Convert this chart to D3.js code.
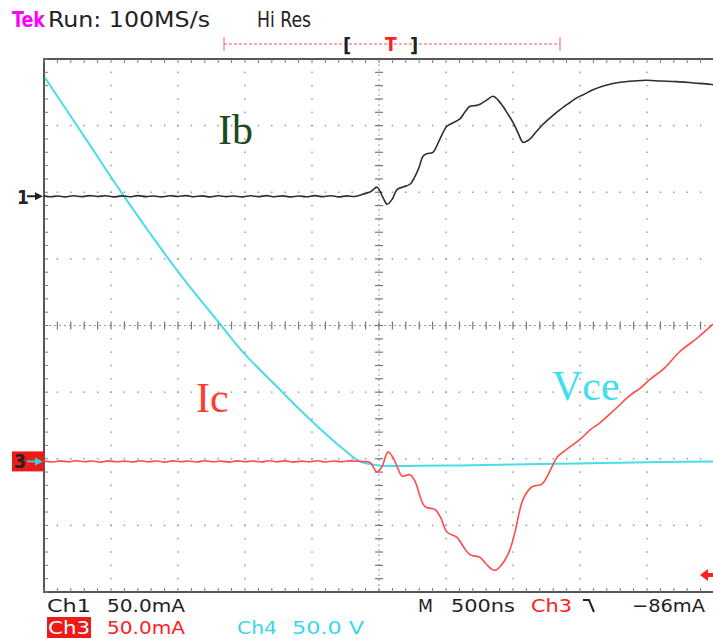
<!DOCTYPE html>
<html>
<head>
<meta charset="utf-8">
<script src="https://cdn.jsdelivr.net/npm/d3@7"></script>
<style>
  html, body { margin: 0; padding: 0; background: #fff; }
  svg { display: block; }
  .scr { font-family: "DejaVu Sans Condensed", "Liberation Sans Narrow", "DejaVu Sans", sans-serif; }
  .lbl { font-family: "Liberation Serif", "DejaVu Serif", serif; }
</style>
</head>
<body>
<div id="chart"></div>
<script>
// scope settings: 500 ns/div, 10 x 8 divisions, trigger in the middle
const TIME_RANGE = [-2500, 2500];   // ns
const DIV_RANGE = [-4, 4];           // vertical divisions
const NS_PER_DIV = 500;

// channel settings (value per div, ground marker position in divisions)
const CH1_PER_DIV = 50, CH1_OFFSET = 1.94;   // Ib, mA
const CH3_PER_DIV = 50, CH3_OFFSET = -2.04;  // Ic, mA
const CH4_PER_DIV = 50, CH4_OFFSET = -2.10;  // Vce, V

// Ib trace, [time ns, mA]
const ibPoints = [
  [-2500, 0.3], [-2450, -0.4], [-2400, 0.2], [-2340, -0.5], [-2280, 0.4], [-2220, -0.3],
  [-2160, 0.5], [-2100, -0.2], [-2040, 0.4], [-1980, -0.5], [-1920, 0.3], [-1860, -0.4],
  [-1800, 0.5], [-1740, -0.3], [-1680, 0.2], [-1620, -0.5], [-1560, 0.4], [-1500, -0.2],
  [-1440, 0.5], [-1380, -0.4], [-1320, 0.3], [-1260, -0.5], [-1200, 0.4], [-1140, -0.3],
  [-1080, 0.2], [-1020, -0.5], [-960, 0.4], [-900, -0.3], [-840, 0.5], [-780, -0.4],
  [-720, 0.3], [-660, -0.5], [-600, 0.2], [-540, -0.4], [-480, 0.5], [-420, -0.3],
  [-360, 0.4], [-300, -0.5], [-240, 0.3], [-180, -0.2],
  [-120, 1.5], [-60, 3.5], [-15, 6.8], [30, -1], [60, -6], [100, -2], [134, 5], [180, 7],
  [231, 9], [269, 15], [300, 22], [328, 30], [360, 32], [403, 33], [450, 42], [507, 52.5],
  [550, 55], [604, 58], [640, 63], [679, 67.5], [720, 68], [754, 69], [800, 72], [851, 75],
  [890, 72], [925, 67.5], [960, 62], [1000, 55.5], [1040, 47], [1075, 40.5], [1127, 43],
  [1170, 48], [1224, 54], [1290, 60], [1351, 65], [1420, 70], [1478, 74], [1540, 77],
  [1597, 80], [1700, 83.5], [1799, 85.5], [1900, 86.5], [2000, 87], [2100, 86.5],
  [2224, 86], [2350, 85], [2470, 84], [2500, 83.5]
];

// Ic trace, [time ns, mA]
const icPoints = [
  [-2500, 0.2], [-2440, -0.4], [-2380, 0.4], [-2320, -0.3], [-2260, 0.5], [-2200, -0.2],
  [-2140, 0.3], [-2080, -0.5], [-2020, 0.4], [-1960, -0.3], [-1900, 0.2], [-1840, -0.4],
  [-1780, 0.5], [-1720, -0.3], [-1660, 0.3], [-1600, -0.5], [-1540, 0.4], [-1480, -0.2],
  [-1420, 0.3], [-1360, -0.4], [-1300, 0.5], [-1240, -0.3], [-1180, 0.2], [-1120, -0.5],
  [-1060, 0.4], [-1000, -0.2], [-940, 0.3], [-880, -0.4], [-820, 0.5], [-760, -0.3],
  [-700, 0.4], [-640, -0.5], [-580, 0.2], [-520, -0.3], [-460, 0.5], [-400, -0.4],
  [-340, 0.3], [-280, -0.2], [-220, 0.4],
  [-142, 0], [-67, -0.8], [-15, -8], [22, -4], [67, 7], [104, 3], [140, -5], [172, -11],
  [231, -10], [269, -15], [343, -34], [418, -36], [460, -42], [507, -53], [582, -57],
  [630, -64], [679, -70], [754, -72], [800, -77], [843, -81], [875, -81.5], [903, -79],
  [940, -74], [978, -66], [1015, -53], [1075, -28.5], [1142, -19], [1216, -17], [1291, -4],
  [1328, 3], [1400, 9], [1500, 16.5], [1580, 24], [1649, 29], [1750, 38], [1873, 49.5],
  [1950, 55], [2022, 61.5], [2130, 70], [2246, 82.5], [2380, 93], [2493, 103]
];

// Vce trace, [time ns, V]
const vcePoints = [
  [-2493, 291], [-2194, 246], [-1910, 203], [-1500, 145.5], [-1201, 108], [-1015, 85],
  [-761, 59], [-515, 34.5], [-239, 10], [-142, 3], [-7, 0], [100, -0.5], [300, -0.3],
  [600, 0], [900, 0.5], [1200, 1], [1500, 1.5], [1800, 2], [2100, 2.5], [2500, 3]
];

const width = 713, height = 639;
const svg = d3.select("#chart").append("svg")
  .attr("width", width).attr("height", height);
svg.append("rect").attr("width", width).attr("height", height).attr("fill", "#fff");

const x = d3.scaleLinear().domain(TIME_RANGE).range([44, 714]);
const y = d3.scaleLinear().domain(DIV_RANGE).range([592, 59]);
const divX = d => x(d * NS_PER_DIV);

const grid = svg.append("g");

// dotted division lines
const minor = d3.range(-25, 26).map(i => i / 5);   // 0.2 div steps
const minorY = d3.range(-20, 21).map(i => i / 5);
[-4, -3, -2, -1, 1, 2, 3, 4].forEach(d => {
  grid.selectAll(null).data(minorY).enter().append("rect")
    .attr("x", divX(d) - 0.75).attr("y", v => y(v) - 0.75)
    .attr("width", 1.5).attr("height", 1.5).attr("fill", "#9a9a9a");
});
[-3, -2, -1, 1, 2, 3].forEach(d => {
  grid.selectAll(null).data(minor).enter().append("rect")
    .attr("x", v => divX(v) - 0.75).attr("y", y(d) - 0.75)
    .attr("width", 1.5).attr("height", 1.5).attr("fill", "#9a9a9a");
});

// centre cross with tick marks
grid.append("line").attr("x1", divX(0)).attr("x2", divX(0)).attr("y1", y(4)).attr("y2", y(-4))
  .attr("stroke", "#9a9a9a").attr("stroke-dasharray", "2,3");
grid.append("line").attr("x1", divX(-5)).attr("x2", divX(5)).attr("y1", y(0)).attr("y2", y(0))
  .attr("stroke", "#9a9a9a").attr("stroke-dasharray", "2,3");
grid.selectAll(null).data(minorY).enter().append("line")
  .attr("x1", divX(0) - 4).attr("x2", divX(0) + 4)
  .attr("y1", v => y(v)).attr("y2", v => y(v))
  .attr("stroke", "#777").attr("stroke-width", 1.2);
grid.selectAll(null).data(minor).enter().append("line")
  .attr("x1", v => divX(v)).attr("x2", v => divX(v))
  .attr("y1", y(0) - 4).attr("y2", y(0) + 4)
  .attr("stroke", "#777").attr("stroke-width", 1.2);

// border with ticks
grid.append("path")
  .attr("d", `M${divX(5) + 2},${y(4)} H${divX(-5)} V${y(-4)} H${divX(5) + 2}`)
  .attr("fill", "none").attr("stroke", "#555").attr("stroke-width", 2);
grid.selectAll(null).data(minor).enter().append("line")
  .attr("x1", v => divX(v)).attr("x2", v => divX(v))
  .attr("y1", y(4)).attr("y2", y(4) + 4)
  .attr("stroke", "#777");
grid.selectAll(null).data(minor).enter().append("line")
  .attr("x1", v => divX(v)).attr("x2", v => divX(v))
  .attr("y1", y(-4)).attr("y2", y(-4) - 4)
  .attr("stroke", "#777");
grid.selectAll(null).data(minorY).enter().append("line")
  .attr("x1", divX(-5)).attr("x2", divX(-5) + 4)
  .attr("y1", v => y(v)).attr("y2", v => y(v))
  .attr("stroke", "#777");

// traces
const plot = svg.append("g");
function trace(points, perDiv, offset, color, w) {
  const line = d3.line()
    .x(d => x(d[0]))
    .y(d => y(offset + d[1] / perDiv))
    .curve(d3.curveCatmullRom.alpha(0.5));
  plot.append("path").datum(points)
    .attr("d", line)
    .attr("fill", "none").attr("stroke", color).attr("stroke-width", w)
    .attr("stroke-linejoin", "round");
}
trace(vcePoints, CH4_PER_DIV, CH4_OFFSET, "#48dde9", 2);
trace(icPoints, CH3_PER_DIV, CH3_OFFSET, "#ff4b4b", 1.6);
trace(ibPoints, CH1_PER_DIV, CH1_OFFSET, "#2e2e2e", 1.6);

// trace labels
svg.append("text").attr("class", "lbl").attr("x", 218).attr("y", 144)
  .attr("font-size", 42).attr("fill", "#1c4a1c").text("Ib");
svg.append("text").attr("class", "lbl").attr("x", 196).attr("y", 412)
  .attr("font-size", 42).attr("fill", "#ff3d2e").text("Ic");
svg.append("text").attr("class", "lbl").attr("x", 552).attr("y", 400)
  .attr("font-size", 42).attr("fill", "#3ee0ee").text("Vce");

// channel markers on the left
svg.append("text").attr("class", "scr").attr("x", 17).attr("y", 204)
  .attr("font-size", 19).attr("font-weight", "bold").attr("fill", "#222").text("1");
svg.append("path").attr("d", `M27,${y(CH1_OFFSET)} H36`).attr("stroke", "#222").attr("stroke-width", 2);
svg.append("path").attr("d", `M35,${y(CH1_OFFSET) - 4} L43,${y(CH1_OFFSET)} L35,${y(CH1_OFFSET) + 4} Z`).attr("fill", "#222");

svg.append("rect").attr("x", 12).attr("y", y(CH3_OFFSET) - 10).attr("width", 32).attr("height", 20).attr("fill", "#ee1a1a");
svg.append("text").attr("class", "scr").attr("x", 14).attr("y", y(CH3_OFFSET) + 7)
  .attr("font-size", 19).attr("font-weight", "bold").attr("fill", "#222").text("3");
svg.append("path").attr("d", `M27,${y(CH3_OFFSET)} H36`).attr("stroke", "#30d0e0").attr("stroke-width", 2);
svg.append("path").attr("d", `M35,${y(CH3_OFFSET) - 4} L43,${y(CH3_OFFSET)} L35,${y(CH3_OFFSET) + 4} Z`).attr("fill", "#30d0e0");

// trigger level marker on the right
svg.append("path").attr("d", "M700,575 L708,569 L708,573 L713,573 L713,577 L708,577 L708,581 Z").attr("fill", "#ff2020");

// record position bar at the top
svg.append("line").attr("x1", 224).attr("x2", 560).attr("y1", 44).attr("y2", 44)
  .attr("stroke", "#ff5050").attr("stroke-dasharray", "3,2");
[224, 560].forEach(px => svg.append("line").attr("x1", px).attr("x2", px)
  .attr("y1", 37).attr("y2", 51).attr("stroke", "#ff6060"));
svg.append("text").attr("class", "scr").attr("x", 343).attr("y", 52).attr("font-size", 20)
  .attr("font-weight", "bold").attr("fill", "#222").text("[");
svg.append("text").attr("class", "scr").attr("x", 385).attr("y", 51).attr("font-size", 19)
  .attr("font-weight", "bold").attr("fill", "#ff2020").text("T");
svg.append("text").attr("class", "scr").attr("x", 410).attr("y", 52).attr("font-size", 20)
  .attr("font-weight", "bold").attr("fill", "#222").text("]");

// status text
function scr(txt, px, py, color, len, size) {
  const t = svg.append("text").attr("class", "scr").attr("x", px).attr("y", py)
    .attr("font-size", size || 18).attr("fill", color).text(txt);
  if (len) t.attr("textLength", len).attr("lengthAdjust", "spacingAndGlyphs");
  return t;
}
scr("Tek", 12, 27, "#ff00ff", 33, 21).attr("font-weight", "bold");
scr("Run: 100MS/s", 48, 27, "#222", 162, 21);
scr("Hi Res", 257, 27, "#222", 54, 21);

scr("Ch1", 47, 612, "#222", 44);
scr("50.0mA", 107, 612, "#222", 78);
scr("M", 418, 612, "#222", 15);
scr("500ns", 451, 612, "#222", 64);
scr("Ch3", 531, 612, "#ff2020", 41);
svg.append("path").attr("d", "M583,600 H589 L594,612").attr("fill", "none")
  .attr("stroke", "#222").attr("stroke-width", 2);
scr("\u221286mA", 632, 612, "#222", 73);

svg.append("rect").attr("x", 47).attr("y", 617).attr("width", 44).attr("height", 21).attr("fill", "#ee1a1a");
scr("Ch3", 48, 634, "#fff", 42);
scr("50.0mA", 107, 634, "#ff2020", 78);
scr("Ch4", 237, 634, "#38d8e8", 40);
scr("50.0 V", 292, 634, "#38d8e8", 72);
</script>
